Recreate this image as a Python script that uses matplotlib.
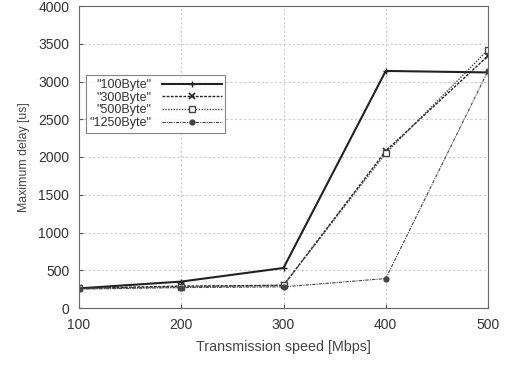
import numpy as np
import matplotlib
matplotlib.use("Agg")
from matplotlib import pyplot as plt

# transmission speeds and max delays
speeds = [100, 200, 300, 400, 500]
delay100 = [260, 350, 530, 3140, 3120]
delay300 = [260, 290, 300, 2080, 3340]
delay500 = [260, 280, 300, 2050, 3420]
delay1250 = [250, 270, 280, 390, 3140]

plt.rcParams['font.family'] = 'Liberation Sans'
plt.rcParams['font.size'] = 9

fig = plt.figure(figsize=(5.07, 3.65), dpi=100)
ax = fig.add_axes([79/507, 1 - 308/365, (488-79)/507, (308-6)/365])

ax.plot(speeds, delay100, color='#222222', lw=1.5, ls='-', marker='+', ms=4, label='"100Byte"')
ax.plot(speeds, delay300, color='#222222', lw=1.0, ls=(0, (2, 1)), marker='x', ms=4, mew=1.2, label='"300Byte"')
ax.plot(speeds, delay500, color='#444444', lw=1.0, ls=(0, (1, 1)), marker='s', ms=4, mfc='white', label='"500Byte"')
ax.plot(speeds, delay1250, color='#444444', lw=0.8, ls=(0, (3, 1, 1, 1)), marker='o', ms=3.5, label='"1250Byte"')

ax.set_xlim(100, 500)
ax.set_ylim(0, 4000)
ax.set_xticks(speeds)
ax.set_yticks(np.arange(0, 4001, 500))
ax.grid(True, color='#cccccc', ls=(0, (2, 2)), lw=0.8)
ax.tick_params(direction='in', length=3, pad=7, colors='#555555', labelcolor='#333333', labelsize=10)
for s in ax.spines.values():
    s.set_color('#666666')
    s.set_linewidth(0.8)

ax.set_xlabel('Transmission speed [Mbps]', color='#444444', labelpad=6, fontsize=10.3)
ax.set_ylabel('Maximum delay [us]', color='#444444', labelpad=6, fontsize=8.8)

leg = ax.legend(loc='upper left', bbox_to_anchor=(0.017, 0.77), markerfirst=False,
                frameon=True, fancybox=False, edgecolor='#666666', handlelength=4.8,
                borderpad=0.3, labelspacing=0.05, handletextpad=0.8, borderaxespad=0)
leg.get_frame().set_linewidth(0.8)
for t in leg.get_texts():
    t.set_color('#333333')

fig.savefig('out.png', dpi=100)
